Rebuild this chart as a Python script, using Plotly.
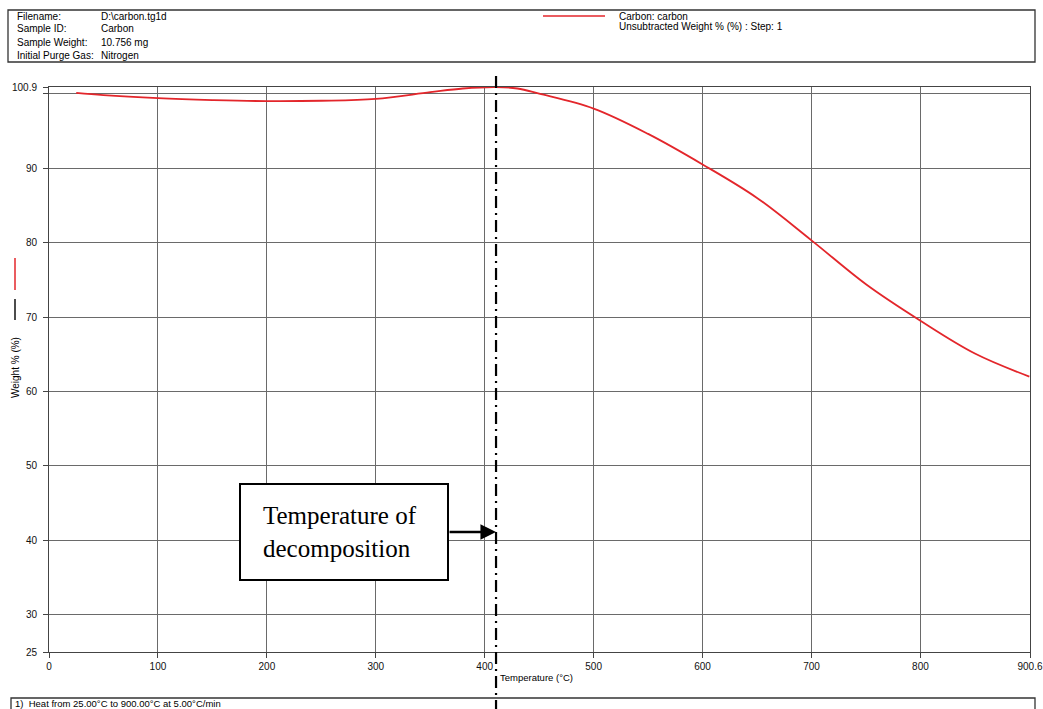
import plotly.graph_objects as go

# ---- data ----
temperature_c = [25, 50, 100, 150, 200, 250, 300, 350, 380, 410, 430, 450, 500,
                 550, 600, 650, 700, 750, 800, 850, 900]
weight_pct = [100.1, 99.8, 99.4, 99.15, 99.0, 99.05, 99.3, 100.2, 100.7, 100.9, 100.7,
              100.0, 98.0, 94.6, 90.5, 86.0, 80.3, 74.4, 69.5, 65.1, 62.0]

x_tickvals = [0, 100, 200, 300, 400, 500, 600, 700, 800, 900.6]
x_ticktext = ["0", "100", "200", "300", "400", "500", "600", "700", "800", "900.6"]
y_tickvals = [25, 30, 40, 50, 60, 70, 80, 90, 100, 100.9]
y_ticktext = ["25", "30", "40", "50", "60", "70", "80", "90", "", "100.9"]

header_labels = ["Filename:", "Sample ID:", "Sample Weight:", "Initial Purge Gas:"]
header_values = ["D:\\carbon.tg1d", "Carbon", "10.756 mg", "Nitrogen"]
legend_lines = ["Carbon: carbon", "Unsubtracted Weight % (%) : Step: 1"]
footer_text = "1) &nbsp;Heat from 25.00°C to 900.00°C at 5.00°C/min"
decomp_temp = 410.4
annot_text = "Temperature of<br>decomposition"

# ---- geometry helpers (pixel -> paper) ----
W, H = 1043, 709
L, R, T, B = 49, 13, 87, 57
PW, PH = W - L - R, H - T - B


def px(x):
    return (x - L) / PW


def py(y):
    return (H - B - y) / PH


SANS = "Arial, Liberation Sans, sans-serif"
SERIF = "Times New Roman, Liberation Serif, serif"

fig = go.Figure()
fig.add_trace(go.Scatter(x=temperature_c, y=weight_pct, mode="lines",
                         line=dict(color="#e3262b", width=1.8, shape="spline"),
                         showlegend=False, hoverinfo="x+y"))

fig.update_layout(
    width=W, height=H, autosize=False,
    margin=dict(l=L, r=R, t=T, b=B, pad=0),
    paper_bgcolor="white", plot_bgcolor="white",
    font=dict(family=SANS, size=10, color="#222"),
    xaxis=dict(range=[0, 900.6], tickvals=x_tickvals, ticktext=x_ticktext,
               showgrid=True, gridcolor="#6a6a6a", gridwidth=1,
               showline=True, linecolor="#444", linewidth=1, mirror=True,
               ticks="outside", ticklen=5, tickcolor="#444", automargin=False,
               tickfont=dict(family=SANS, size=10, color="#111"), zeroline=False),
    yaxis=dict(range=[25, 100.9], tickvals=y_tickvals, ticktext=y_ticktext,
               showgrid=True, gridcolor="#6a6a6a", gridwidth=1,
               showline=True, linecolor="#444", linewidth=1, mirror=True,
               ticks="outside", ticklen=5, tickcolor="#444", automargin=False,
               ticklabelstandoff=4,
               tickfont=dict(family=SANS, size=10, color="#111"), zeroline=False),
)

shapes = []
annotations = []

# header box
shapes.append(dict(type="rect", xref="paper", yref="paper",
                   x0=px(8), x1=px(1035), y0=py(62), y1=py(10),
                   line=dict(color="#333", width=1.3)))
rows_y = [16, 29, 42, 55]
for lab, val, yy in zip(header_labels, header_values, rows_y):
    annotations.append(dict(text=lab, x=px(15), y=py(yy), xref="paper", yref="paper",
                            xanchor="left", yanchor="middle", showarrow=False,
                            font=dict(family=SANS, size=10, color="#000")))
    annotations.append(dict(text=val, x=px(99), y=py(yy), xref="paper", yref="paper",
                            xanchor="left", yanchor="middle", showarrow=False,
                            font=dict(family=SANS, size=10, color="#000")))
# legend in header
shapes.append(dict(type="line", xref="paper", yref="paper",
                   x0=px(543), x1=px(605), y0=py(16), y1=py(16),
                   line=dict(color="#e3262b", width=1.5)))
for txt, yy in zip(legend_lines, [16, 26]):
    annotations.append(dict(text=txt, x=px(617), y=py(yy), xref="paper", yref="paper",
                            xanchor="left", yanchor="middle", showarrow=False,
                            font=dict(family=SANS, size=10, color="#000")))

# y-axis title with colour marks
shapes.append(dict(type="line", xref="paper", yref="paper",
                   x0=px(15), x1=px(15), y0=py(258), y1=py(290),
                   line=dict(color="#e3262b", width=1.5)))
shapes.append(dict(type="line", xref="paper", yref="paper",
                   x0=px(15), x1=px(15), y0=py(299), y1=py(320),
                   line=dict(color="#111", width=1.5)))
annotations.append(dict(text="Weight % (%)", x=px(15), y=py(368), xref="paper", yref="paper",
                        xanchor="center", yanchor="middle", textangle=-90, showarrow=False,
                        font=dict(family=SANS, size=10, color="#000")))
# x-axis title
annotations.append(dict(text="Temperature (°C)", x=px(536), y=py(677), xref="paper", yref="paper",
                        xanchor="center", yanchor="middle", showarrow=False,
                        font=dict(family=SANS, size=9.5, color="#000")))

# footer box
shapes.append(dict(type="rect", xref="paper", yref="paper",
                   x0=px(11), x1=px(1035), y0=py(720), y1=py(698),
                   line=dict(color="#333", width=1.3)))
annotations.append(dict(text=footer_text, x=px(13), y=py(703), xref="paper", yref="paper",
                        xanchor="left", yanchor="middle", showarrow=False,
                        font=dict(family=SANS, size=9.5, color="#000")))

# decomposition dash-dot line
shapes.append(dict(type="line", xref="x", yref="paper",
                   x0=decomp_temp, x1=decomp_temp, y0=py(712), y1=py(75),
                   line=dict(color="black", width=2.2, dash="12px,5px,2px,5px")))

# annotation box with text and arrow
shapes.append(dict(type="rect", xref="paper", yref="paper",
                   x0=px(240), x1=px(448), y0=py(580), y1=py(484),
                   line=dict(color="black", width=2), fillcolor="white", layer="above"))
annotations.append(dict(text=annot_text, x=px(261), y=py(532), xref="paper", yref="paper",
                        xanchor="left", yanchor="middle", align="left", showarrow=False,
                        font=dict(family=SERIF, size=25, color="black")))
arrow_y = 25 + (H - B - 532) / PH * (100.9 - 25)
annotations.append(dict(text="", x=decomp_temp, y=arrow_y, xref="x", yref="y",
                        ax=-48, ay=0, axref="pixel", ayref="pixel",
                        showarrow=True, arrowhead=2, arrowsize=1.2, arrowwidth=2.6,
                        arrowcolor="black", standoff=0))

fig.update_layout(shapes=shapes, annotations=annotations)

post = ("document.body.style.margin='0';document.body.style.padding='0';"
        "document.body.style.overflow='hidden';"
        "var gd=document.getElementById('{plot_id}');"
        "Plotly.relayout(gd,{width:1043,height:709});")
fig.write_html("out.html", config={"responsive": False, "displayModeBar": False},
               post_script=post)
